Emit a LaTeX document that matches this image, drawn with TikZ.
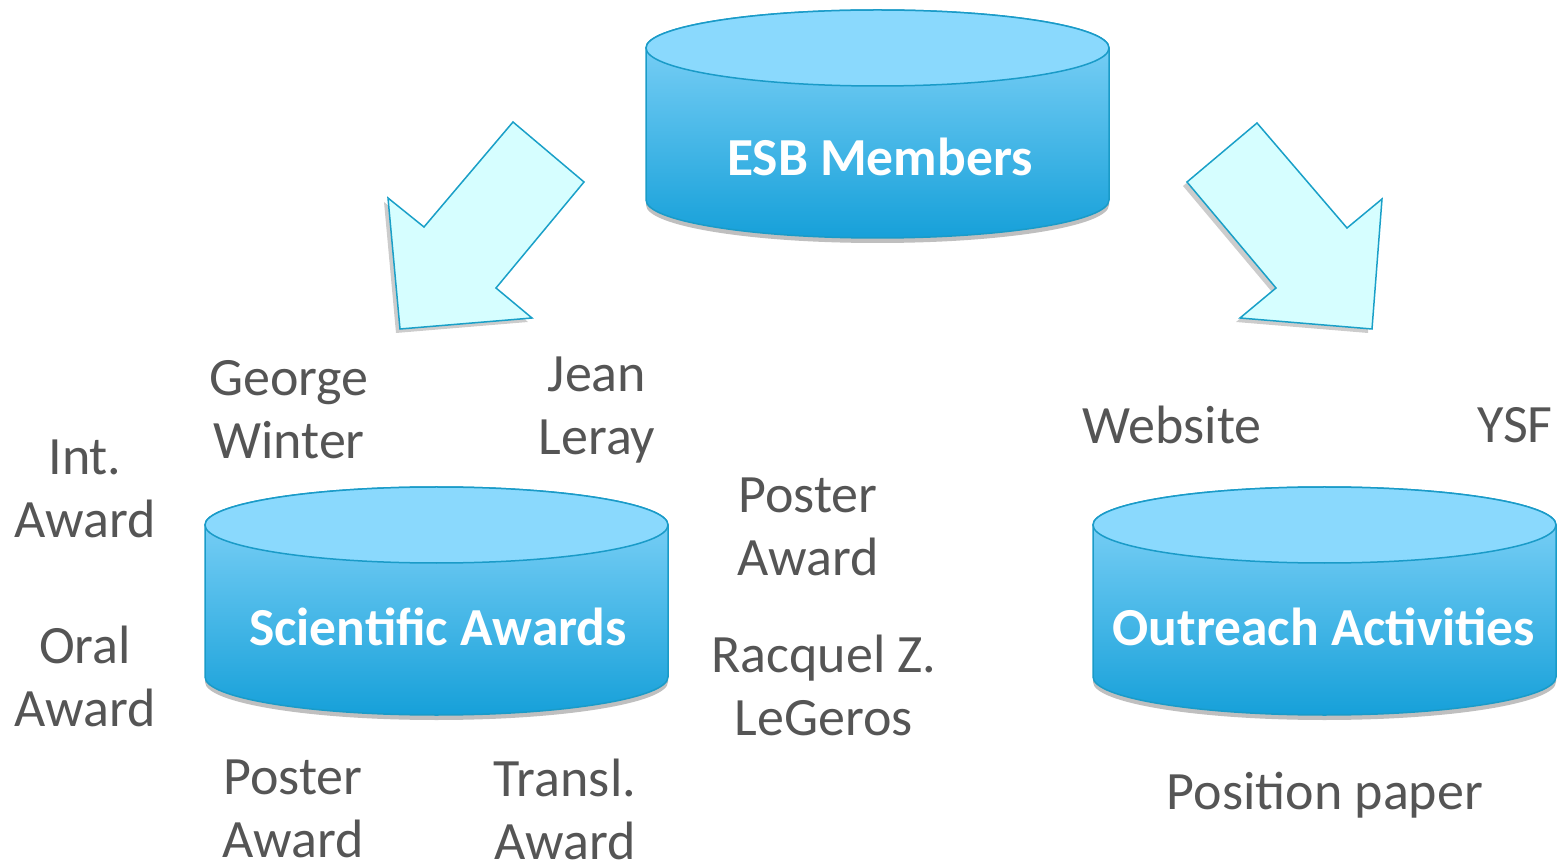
\documentclass[tikz,border=0pt]{standalone}
\usepackage{fontspec}
\setmainfont{Carlito}
\usetikzlibrary{shadows,shadings}
\definecolor{cyltop}{HTML}{8AD9FD}
\definecolor{cylup}{HTML}{88D6FA}
\definecolor{cyldown}{HTML}{16A0D9}
\definecolor{cylline}{HTML}{1A9BC8}
\definecolor{arrfill}{HTML}{D6FEFF}
\definecolor{arrline}{HTML}{1AA0C8}
\definecolor{labgray}{HTML}{555555}
\tikzset{
  lab/.style={font=\fontsize{54}{63}\selectfont, text=labgray, align=center, inner sep=0pt},
  cyltext/.style={font=\fontsize{53.5}{60}\selectfont\bfseries, text=white, inner sep=0pt},
  cylbody/.style={draw=cylline, line width=1.5pt, top color=cylup, bottom color=cyldown,
     drop shadow={shadow xshift=0pt, shadow yshift=-5pt, opacity=0.25, fill=black}},
  cyllid/.style={draw=cylline, line width=1.5pt, fill=cyltop},
  blockarrow/.style={draw=arrline, line width=1.5pt, fill=arrfill, line join=miter,
     drop shadow={shadow xshift=-4pt, shadow yshift=-4pt, opacity=0.2, fill=black}}
}
\newcommand{\mycyl}[4]{% cx, rx, ytop, ybot  (ry=38)
  \path[cylbody] (#1-#2,#3) -- (#1-#2,#4) arc[start angle=180,end angle=360,x radius=#2,y radius=38]
     -- (#1+#2,#3) arc[start angle=0,end angle=180,x radius=#2,y radius=38] -- cycle;
  \path[cyllid] (#1,#3) ellipse[x radius=#2,y radius=38];
}
\begin{document}
\begin{tikzpicture}[x=1pt,y=1pt]
\useasboundingbox (0,0) rectangle (1558,863);
% block arrows
\draw[blockarrow] (513,741) -- (584,681) -- (496,575) -- (532,545) -- (400,534) -- (388,665) -- (424,636) -- cycle;
\draw[blockarrow] (1257,740) -- (1347,635) -- (1382,664) -- (1372,534) -- (1240,545) -- (1276,575) -- (1187,681) -- cycle;
% cylinders
\mycyl{877.5}{231.5}{815}{663}
\mycyl{436.5}{231.5}{338}{186}
\mycyl{1324.5}{231.5}{338}{186}
\node[cyltext] (esb) at (880,706) {ESB Members};
\node[cyltext] (sci) at (438,236) {Scientific Awards};
\node[cyltext] (out) at (1324,236) {Outreach Activities};
% labels
\node[lab] (george) at (289,453) {George\\Winter};
\node[lab] (jean) at (597,453) {Jean\\Leray};
\node[lab] (int) at (85,374) {Int.\\Award};
\node[lab] (oral) at (85,187) {Oral\\Award};
\node[lab] (posterl) at (293,54) {Poster\\Award};
\node[lab] (transl) at (565,54) {Transl.\\Award};
\node[lab] (posterr) at (808,336) {Poster\\Award};
\node[lab] (racq) at (824,178) {Racquel Z.\\LeGeros};
\node[lab] (web) at (1172,438) {Website};
\node[lab] (ysf) at (1515,438) {YSF};
\node[lab] (pos) at (1325,68) {Position paper};
\end{tikzpicture}
\end{document}
